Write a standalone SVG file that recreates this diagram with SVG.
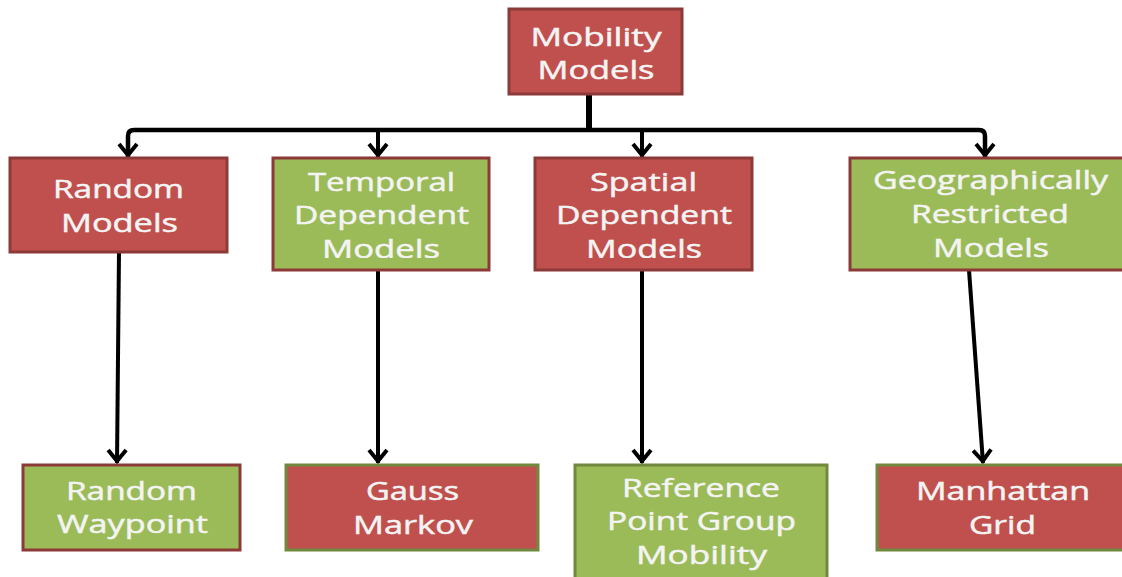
<svg xmlns="http://www.w3.org/2000/svg" width="1122" height="577" viewBox="0 0 1122 577">
<style>
.red{fill:#C0504D}
.green{fill:#9BBB59}
.bred{stroke:#8C3A38;stroke-width:3}
.bgreen{stroke:#71893F;stroke-width:3}
text{font-family:"Open Sans","DejaVu Sans",sans-serif;font-size:26px;fill:#F4F4F4;stroke:#F4F4F4;stroke-width:0.5;text-anchor:middle}
.c{fill:none;stroke:#000;stroke-width:4}
</style>
<defs>
<marker id="ah" markerUnits="userSpaceOnUse" markerWidth="22" markerHeight="26" viewBox="-17 -13 22 26" refX="0" refY="0" orient="auto-start-reverse">
<path d="M-13,-9 L-2,0 L-13,9" fill="none" stroke="#000" stroke-width="4"/>
</marker>
<clipPath id="clipT"><rect x="273" y="158" width="216" height="100"/></clipPath>
<clipPath id="clipS"><rect x="535" y="158" width="217" height="100"/></clipPath>
<clipPath id="clipG"><rect x="850" y="158" width="280" height="100"/></clipPath>
</defs>
<rect width="1122" height="577" fill="#fff"/>
<g id="connectors">
<path class="c" d="M589,94 V131" style="stroke-width:6"/>
<path class="c" d="M128,157 V136 Q128,130 134,130 H979 Q985,130 985,136 V157" style="stroke-width:4.5" marker-start="url(#ah)" marker-end="url(#ah)"/>
<path class="c" d="M378,130 V157" marker-end="url(#ah)"/>
<path class="c" d="M642,130 V157" marker-end="url(#ah)"/>
<path class="c" d="M119,252 L117,463" marker-end="url(#ah)"/>
<path class="c" d="M378,270 V463" marker-end="url(#ah)"/>
<path class="c" d="M642,270 V463" marker-end="url(#ah)"/>
<path class="c" d="M969,270 L983,463" marker-end="url(#ah)"/>
</g>
<g id="mobility-models">
<rect class="red bred" x="509" y="9" width="173" height="85"/>
<text x="596" y="46" textLength="131" lengthAdjust="spacingAndGlyphs">Mobility</text>
<text x="596" y="79" textLength="117" lengthAdjust="spacingAndGlyphs">Models</text>
</g>
<g id="random-models">
<rect class="red bred" x="10" y="158" width="217" height="94"/>
<text x="118.5" y="198" textLength="131" lengthAdjust="spacingAndGlyphs">Random</text>
<text x="119.5" y="232" textLength="117" lengthAdjust="spacingAndGlyphs">Models</text>
</g>
<g id="temporal-dependent-models">
<rect class="green bred" x="273" y="158" width="216" height="112"/>
<text x="381.5" y="191" textLength="147" lengthAdjust="spacingAndGlyphs">Temporal</text>
<text x="381.5" y="224" textLength="175" lengthAdjust="spacingAndGlyphs">Dependent</text>
<text x="381" y="258" textLength="118" lengthAdjust="spacingAndGlyphs" clip-path="url(#clipT)">Models</text>
</g>
<g id="spatial-dependent-models">
<rect class="red bred" x="535" y="158" width="217" height="112"/>
<text x="643.5" y="191" textLength="107" lengthAdjust="spacingAndGlyphs">Spatial</text>
<text x="644" y="224" textLength="176" lengthAdjust="spacingAndGlyphs">Dependent</text>
<text x="644" y="258" textLength="116" lengthAdjust="spacingAndGlyphs" clip-path="url(#clipS)">Models</text>
</g>
<g id="geographically-restricted-models">
<rect class="green bred" x="850" y="158" width="280" height="112"/>
<text x="990.5" y="189" textLength="235" lengthAdjust="spacingAndGlyphs">Geographically</text>
<text x="990" y="223" textLength="158" lengthAdjust="spacingAndGlyphs">Restricted</text>
<text x="991" y="257" textLength="116" lengthAdjust="spacingAndGlyphs" clip-path="url(#clipG)">Models</text>
</g>
<g id="random-waypoint">
<rect class="green bred" x="23" y="465" width="217" height="85"/>
<text x="131.5" y="500" textLength="131" lengthAdjust="spacingAndGlyphs">Random</text>
<text x="132.5" y="533" textLength="151" lengthAdjust="spacingAndGlyphs">Waypoint</text>
</g>
<g id="gauss-markov">
<rect class="red bgreen" x="286" y="465" width="252" height="85"/>
<text x="412.5" y="500" textLength="93" lengthAdjust="spacingAndGlyphs">Gauss</text>
<text x="413" y="534" textLength="120" lengthAdjust="spacingAndGlyphs">Markov</text>
</g>
<g id="reference-point-group-mobility">
<rect class="green bgreen" x="575" y="465" width="252" height="118"/>
<text x="701" y="497" textLength="158" lengthAdjust="spacingAndGlyphs">Reference</text>
<text x="701.5" y="530" textLength="189" lengthAdjust="spacingAndGlyphs">Point Group</text>
<text x="701.5" y="564" textLength="131" lengthAdjust="spacingAndGlyphs">Mobility</text>
</g>
<g id="manhattan-grid">
<rect class="red bgreen" x="877" y="465" width="250" height="85"/>
<text x="1003" y="500" textLength="174" lengthAdjust="spacingAndGlyphs">Manhattan</text>
<text x="1002.5" y="534" textLength="67" lengthAdjust="spacingAndGlyphs">Grid</text>
</g>
</svg>
